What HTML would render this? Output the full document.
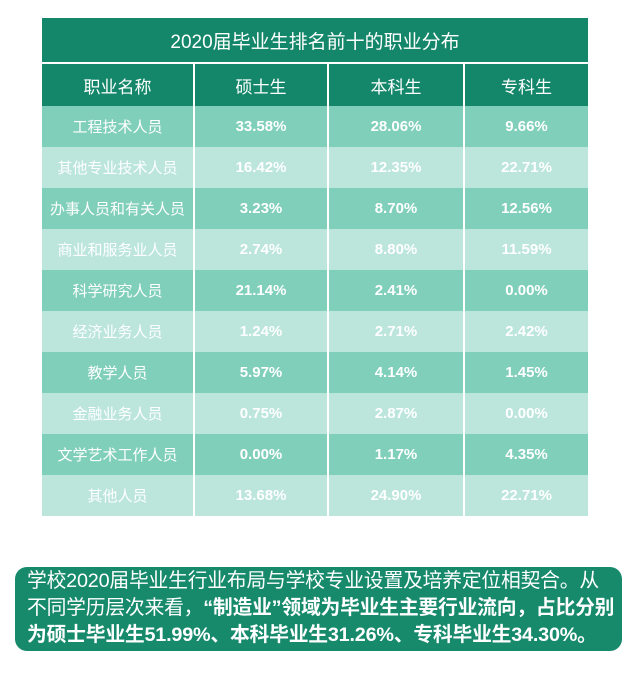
<!DOCTYPE html><html><head><meta charset="utf-8"><style>
body{margin:0;width:637px;height:679px;background:#fff;font-family:"Liberation Sans","Noto Sans CJK SC",sans-serif;position:relative;overflow:hidden}
.t{position:absolute;left:42px;top:18px;width:546px;border-collapse:collapse;table-layout:fixed;color:#fff}
.t td{text-align:center;border-left:2px solid #fff;padding:0;font-size:15px;font-weight:bold}
.t td:first-child{border-left:none;font-weight:normal}
.t tr.title td{height:44px;background:#14876a;font-size:19px;font-weight:normal;border-bottom:2px solid #fff}
.t tr.h td{height:42px;background:#14876a;font-size:17px;font-weight:normal}
.t tr.o td{height:41px;background:#80cfba}
.t tr.e td{height:41px;background:#bce6dc}
.box{position:absolute;left:15px;top:567px;width:607px;height:84px;background:#178a6c;border-radius:12px;color:#fff;font-size:19.8px;line-height:27px;padding:1px 0 0 12px;box-sizing:border-box;letter-spacing:-0.2px;white-space:nowrap}
</style></head><body>
<table class="t">
<colgroup><col style="width:152px"><col style="width:134px"><col style="width:136px"><col style="width:124px"></colgroup>
<tr class="title"><td colspan="4" style="border-left:none">2020届毕业生排名前十的职业分布</td></tr>
<tr class="h"><td>职业名称</td><td>硕士生</td><td>本科生</td><td>专科生</td></tr>
<tr class="o"><td>工程技术人员</td><td>33.58%</td><td>28.06%</td><td>9.66%</td></tr>
<tr class="e"><td>其他专业技术人员</td><td>16.42%</td><td>12.35%</td><td>22.71%</td></tr>
<tr class="o"><td>办事人员和有关人员</td><td>3.23%</td><td>8.70%</td><td>12.56%</td></tr>
<tr class="e"><td>商业和服务业人员</td><td>2.74%</td><td>8.80%</td><td>11.59%</td></tr>
<tr class="o"><td>科学研究人员</td><td>21.14%</td><td>2.41%</td><td>0.00%</td></tr>
<tr class="e"><td>经济业务人员</td><td>1.24%</td><td>2.71%</td><td>2.42%</td></tr>
<tr class="o"><td>教学人员</td><td>5.97%</td><td>4.14%</td><td>1.45%</td></tr>
<tr class="e"><td>金融业务人员</td><td>0.75%</td><td>2.87%</td><td>0.00%</td></tr>
<tr class="o"><td>文学艺术工作人员</td><td>0.00%</td><td>1.17%</td><td>4.35%</td></tr>
<tr class="e"><td>其他人员</td><td>13.68%</td><td>24.90%</td><td>22.71%</td></tr>
</table>
<div class="box">学校2020届毕业生行业布局与学校专业设置及培养定位相契合。从<br>不同学历层次来看，<b>“制造业”领域为毕业生主要行业流向，占比分别<br>为硕士毕业生51.99%、本科毕业生31.26%、专科毕业生34.30%。</b></div>
</body></html>
